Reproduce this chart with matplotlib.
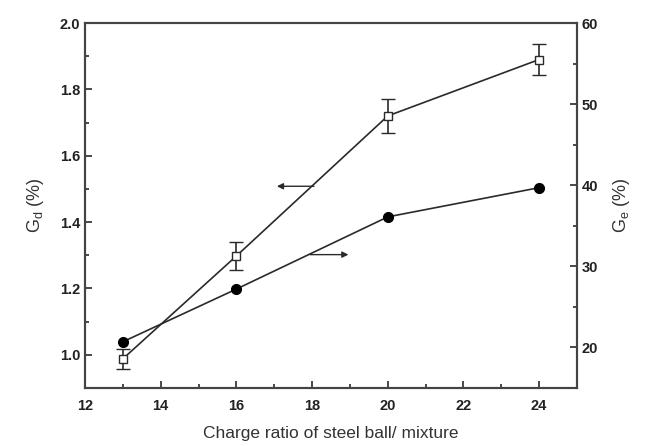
import matplotlib
matplotlib.use('Agg')
import matplotlib.pyplot as plt
from matplotlib.ticker import MultipleLocator

plt.rcParams['font.family'] = ['Liberation Sans', 'DejaVu Sans']

# data
ratio = [13, 16, 20, 24]
gd = [0.988, 1.298, 1.72, 1.89]
gd_err = [0.03, 0.042, 0.05, 0.047]
ge = [20.7, 27.2, 36.1, 39.7]

line_color = '#2a2a2a'

fig = plt.figure(figsize=(6.45, 4.46), dpi=100)
ax = fig.add_axes([0.1318, 0.130, 0.7628, 0.8184])
ax2 = ax.twinx()

ax.errorbar(ratio, gd, yerr=gd_err, color=line_color, lw=1.2, marker='s', ms=6,
            mfc='white', mec=line_color, mew=1.0, capsize=5, elinewidth=1.2,
            capthick=1.2, zorder=3)
ax2.plot(ratio, ge, color=line_color, lw=1.2, marker='o', ms=7,
         mfc='black', mec='black', zorder=3)

ax.set_xlim(12, 25)
ax.set_ylim(0.9, 2.0)
ax2.set_ylim(15, 60)

ax.xaxis.set_minor_locator(MultipleLocator(1))
ax.yaxis.set_minor_locator(MultipleLocator(0.1))
ax2.yaxis.set_minor_locator(MultipleLocator(5))
ax.set_xticks([12, 14, 16, 18, 20, 22, 24])
ax.set_yticks([1.0, 1.2, 1.4, 1.6, 1.8, 2.0])
ax2.set_yticks([20, 30, 40, 50, 60])

for a in (ax, ax2):
    a.tick_params(which='both', direction='in', color=line_color, width=1.2,
                  labelsize=10.5, labelcolor='#222222')
    a.tick_params(which='major', length=5)
    a.tick_params(which='minor', length=3)
    for s in a.spines.values():
        s.set_linewidth(1.5)
        s.set_color('#444444')
for lab in ax.get_xticklabels() + ax.get_yticklabels() + ax2.get_yticklabels():
    lab.set_fontweight('bold')
ax.tick_params(axis='x', pad=8)

ax.set_xlabel('Charge ratio of steel ball/ mixture', fontsize=12.5, color='#333333', labelpad=9)
ax.set_ylabel('G$_\\mathregular{d}$ (%)', fontsize=13, color='#333333', labelpad=10)
ax2.set_ylabel('G$_\\mathregular{e}$ (%)', fontsize=13, color='#333333', labelpad=9)

# arrows pointing at each curve's axis
ax.annotate('', xy=(17.07, 1.508), xytext=(18.05, 1.508),
            arrowprops=dict(arrowstyle='-|>', color=line_color, lw=1.0,
                            mutation_scale=9, shrinkA=0, shrinkB=0))
ax.annotate('', xy=(18.96, 1.302), xytext=(17.95, 1.302),
            arrowprops=dict(arrowstyle='-|>', color=line_color, lw=1.0,
                            mutation_scale=9, shrinkA=0, shrinkB=0))

fig.savefig('out.png', dpi=100)
